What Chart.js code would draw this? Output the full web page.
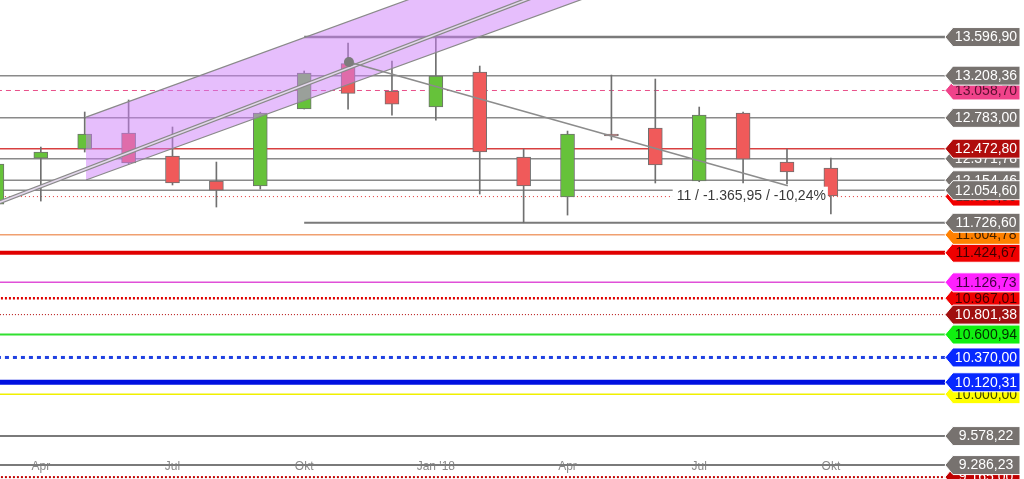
<!DOCTYPE html>
<html>
<head>
<meta charset="utf-8">
<script src="https://cdn.jsdelivr.net/npm/chart.js@4/dist/chart.umd.min.js"></script>
<style>
html, body { margin:0; padding:0; background:#fff; }
#wrap { width:1024px; height:479px; position:relative; }
</style>
</head>
<body>
<div id="wrap"><canvas id="dax"></canvas></div>
<script>
// monthly candles Mar 2017 .. Oct 2018, x = month index
var months = ['Mär','Apr','Mai','Jun','Jul','Aug','Sep','Okt','Nov','Dez','Jan','Feb','Mär','Apr','Mai','Jun','Jul','Aug','Sep','Okt'];
var opens  = [11915,12378,12469,12630,12399,12147,12097,12872,13330,13053,12892,13244,12388,11986,12620,12680,12147,12832,12338,12278];
var highs  = [12330,12489,12842,12963,12691,12338,12840,13255,13535,13355,13597,13305,12469,12650,13214,13174,12892,12840,12469,12379];
var lows   = [11890,11945,12439,12320,12107,11885,12066,12872,12870,12811,12761,12016,11727,11804,12560,12127,12140,12127,12117,11815];
var closes = [12318,12439,12620,12328,12127,12056,12832,13234,13030,12922,13204,12439,12097,12620,12600,12308,12811,12368,12238,11996];

var tickPos = [1, 4, 7, 10, 13, 16, 19];
var tickLabels = ['Apr', 'Jul', 'Okt', "Jan '18", 'Apr', 'Jul', 'Okt'];

// horizontal levels and the month where each one starts
var levels    = [13596.90,13208.36,13058.70,12783.00,12472.80,12371.78,12154.46,12054.60,11990.00,11726.60,11604.78,11424.67,11126.73,10967.01,10801.38,10600.94,10370.00,10120.31,10000.00,9578.22,9286.23,9165.00];
var levelFrom = [7,0,0,0,0,0,0,0,0,7,0,0,0,0,0,0,0,0,0,0,0,0];

// channel, middle line, trend line (month, value)
var chanUpper = [[2.03, 12791], [21.6, 15942]];
var chanLower = [[2.03, 12157], [21.6, 15308]];
var chanMid   = [[0, 11923], [13, 14133]];
var trend     = [[8.02, 13345], [18.02, 12100]];
var trendText = '11 / -1.365,95 / -10,24%';

var xMin = 0.07, xMax = 21.6, yMin = 9146, yMax = 13970;

var gray = '#77726f';
var levelStyle = [
  {c:'#7a7a7a', w:2.5, bg:gray, fg:'#fff'},
  {c:'#8a8a8a', w:1.5, bg:gray, fg:'#fff'},
  {c:'#e8508a', w:1, d:[5,4], bg:'#f0428a', fg:'#5a1030'},
  {c:'#8a8a8a', w:1.5, bg:gray, fg:'#fff'},
  {c:'#d84040', w:1.5, bg:'#b00c0c', fg:'#fff'},
  {c:'#8a8a8a', w:1.5, bg:gray, fg:'#fff'},
  {c:'#8a8a8a', w:1.5, bg:gray, fg:'#fff'},
  {c:'#8a8a8a', w:1.5, bg:gray, fg:'#fff'},
  {c:'#e03030', w:1, d:[1,3], bg:'#f00000', fg:'#400'},
  {c:'#7a7a7a', w:2, bg:gray, fg:'#fff'},
  {c:'#f0a070', w:1.5, bg:'#ff8000', fg:'#402000'},
  {c:'#e00000', w:4, bg:'#f00000', fg:'#400000'},
  {c:'#e050d8', w:1.5, bg:'#ff20ff', fg:'#400040'},
  {c:'#e00000', w:2.5, d:[2,2], bg:'#f00000', fg:'#400000'},
  {c:'#b00000', w:1, d:[1,2], bg:'#a01010', fg:'#fff'},
  {c:'#30e030', w:2, bg:'#10f010', fg:'#003000'},
  {c:'#2040e0', w:3, d:[4,4], bg:'#0828ff', fg:'#fff'},
  {c:'#0010e0', w:5, bg:'#0828ff', fg:'#fff'},
  {c:'#f0f000', w:1.5, bg:'#ffff00', fg:'#404000'},
  {c:'#7a7a7a', w:2, bg:gray, fg:'#fff'},
  {c:'#7a7a7a', w:2, bg:gray, fg:'#fff'},
  {c:'#c00000', w:2, d:[2,2], bg:'#c00000', fg:'#fff'}
];
// which price box lies on top of which
var labelOrder = [21,20,19,18,17,16,15,13,12,14,11,10,9,8,6,7,5,4,3,2,1,0];

function fmt(v) {
  var s = v.toFixed(2).split('.');
  return s[0].replace(/\B(?=(\d{3})+(?!\d))/g, '.') + ',' + s[1];
}
function pts(a) { return a.map(function(p){ return {x:p[0], y:p[1]}; }); }

var ds = [];
levels.forEach(function(v, k){
  var st = levelStyle[k];
  ds.push({type:'line', data:[{x:levelFrom[k], y:v}, {x:xMax, y:v}], borderColor:st.c, borderWidth:st.w,
    borderDash:st.d || [], borderCapStyle:'butt', pointRadius:0, order:50});
});
ds.push({type:'bar', data:months.map(function(m,i){ return {x:i, y:[lows[i], highs[i]]}; }),
  backgroundColor:'#707070', barThickness:1, grouped:false, order:40});
ds.push({type:'bar', data:months.map(function(m,i){ return {x:i, y:[opens[i], closes[i]]}; }),
  backgroundColor:function(ctx){ var i = ctx.dataIndex; return closes[i] >= opens[i] ? '#66c23a' : '#f05a5a'; },
  borderColor:'#707070', borderWidth:1, borderSkipped:false, barThickness:14, grouped:false, order:30});
ds.push({type:'line', data:pts(chanUpper), borderColor:'#8a8a8a', borderWidth:1.2, pointRadius:0,
  fill:'+1', backgroundColor:'rgba(205,125,250,0.5)', order:20});
ds.push({type:'line', data:pts(chanLower), borderColor:'#8a8a8a', borderWidth:1.2, pointRadius:0, order:19});
ds.push({type:'line', data:pts(chanMid), borderColor:'#8a8a8a', borderWidth:4, pointRadius:0, order:15});
ds.push({type:'line', data:pts(chanMid), borderColor:'#e4d8ec', borderWidth:1.5, pointRadius:0, order:14});
ds.push({type:'line', data:pts(trend), borderColor:'#8c8c8c', borderWidth:1.5,
  pointRadius:function(ctx){ return ctx.dataIndex === 0 ? 5 : 0; },
  pointBackgroundColor:'#7c7c7c', pointBorderWidth:0, order:10});

var priceBoxes = {
  id: 'priceBoxes',
  afterDatasetsDraw: function(chart) {
    var c = chart.ctx, sx = chart.scales.x, sy = chart.scales.y, area = chart.chartArea;
    c.save();
    // trend annotation
    var ex = sx.getPixelForValue(trend[1][0]), ey = sy.getPixelForValue(trend[1][1]);
    c.font = '14px "Liberation Sans", Arial, sans-serif';
    var tw = c.measureText(trendText).width;
    c.fillStyle = '#fff';
    c.fillRect(ex + 38 - tw - 4, ey + 1, tw + 6, 18);
    c.fillStyle = '#3a3a3a';
    c.textAlign = 'right'; c.textBaseline = 'middle';
    c.fillText(trendText, ex + 38, ey + 10);

    var left = area.right, right = left + 75, h = 9.5;
    labelOrder.forEach(function(k){
      var py = sy.getPixelForValue(levels[k]), st = levelStyle[k];
      c.beginPath();
      c.moveTo(left, py);
      c.lineTo(left + 8, py - h);
      c.lineTo(right, py - h);
      c.lineTo(right, py + h);
      c.lineTo(left + 8, py + h);
      c.closePath();
      c.fillStyle = st.bg; c.fill();
      c.strokeStyle = '#fff'; c.lineWidth = 1; c.stroke();
      c.fillStyle = st.fg;
      c.textAlign = 'center'; c.textBaseline = 'middle';
      c.fillText(fmt(levels[k]), left + 41, py + 0.5);
    });
    c.restore();
  }
};

function noPad(ax) { ax.paddingLeft = 0; ax.paddingRight = 0; ax.paddingTop = 0; ax.paddingBottom = 0; }

Chart.defaults.font.family = '"Liberation Sans", Arial, sans-serif';

new Chart(document.getElementById('dax').getContext('2d'), {
  type: 'line',
  data: { datasets: ds },
  options: {
    responsive: true,
    maintainAspectRatio: false,
    animation: false,
    devicePixelRatio: 1,
    layout: { autoPadding: false, padding: { left:0, right:79, top:0, bottom:0 } },
    plugins: { legend: { display:false }, tooltip: { enabled:false } },
    scales: {
      x: {
        type: 'linear', min: xMin, max: xMax, offset: false,
        position: { y: 9286.23 },
        grid: { display:false, drawTicks:false, offset:false },
        border: { display:false },
        afterBuildTicks: function(ax){ ax.ticks = tickPos.map(function(v){ return {value:v}; }); },
        afterFit: noPad,
        ticks: {
          autoSkip:false, maxRotation:0, padding:-6, color:'#8a8a8a', font:{ size:12 },
          callback: function(v){ var k = tickPos.indexOf(v); return k < 0 ? '' : tickLabels[k]; }
        }
      },
      y: { type:'linear', display:false, min:yMin, max:yMax, afterFit: noPad }
    }
  },
  plugins: [priceBoxes]
});
</script>
</body>
</html>
